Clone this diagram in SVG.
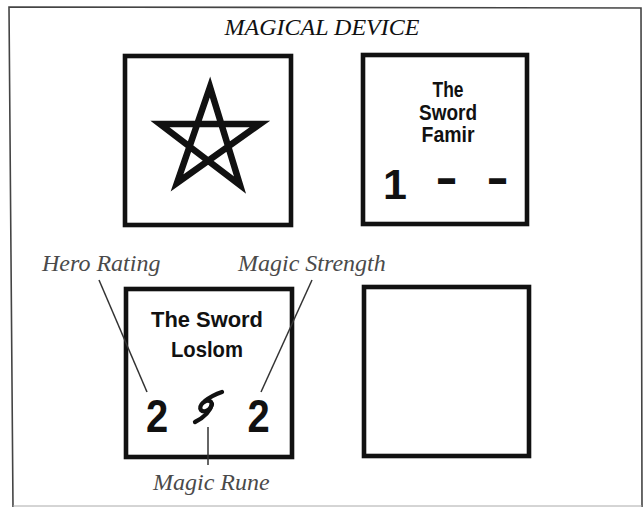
<svg xmlns="http://www.w3.org/2000/svg" width="644" height="509" viewBox="0 0 644 509">
<style>
.frame{fill:none;stroke:#444;stroke-width:1.6}
.box{fill:#fff;stroke:#111;stroke-width:4.6;stroke-linejoin:miter}
.title{font-family:"Liberation Serif",serif;font-style:italic;font-size:24px;fill:#111}
.lbl{font-family:"Liberation Serif",serif;font-style:italic;font-size:24px;fill:#4a4a4a}
.name{font-family:"Liberation Sans",Arial,sans-serif;font-weight:bold;font-size:21.5px;fill:#111;text-anchor:middle}
.num{font-family:"Liberation Sans",Arial,sans-serif;font-weight:bold;fill:#111;text-anchor:middle}
.lead{stroke:#333;stroke-width:1.5;fill:none}
.rune{fill:none;stroke:#111;stroke-width:4.3;stroke-linecap:round}
</style>
<rect x="0" y="0" width="644" height="509" fill="#fff"/>
<path class="frame" d="M13,507 L9,7 L641,8 L642,507"/>
<line x1="13" y1="506" x2="642" y2="506" stroke="#aaa" stroke-width="1"/>
<text class="title" x="322" y="35" text-anchor="middle">MAGICAL DEVICE</text>

<g id="node-star">
<rect class="box" x="125" y="56" width="166" height="169"/>
<path d="M210,87 L177,183 L260,124 L160,124 L240,185 Z" fill="none" stroke="#111" stroke-width="6.5" stroke-linejoin="miter"/>
</g>

<g id="node-famir">
<rect class="box" x="363" y="55" width="164" height="169"/>
<text class="name" x="448" y="97" textLength="31" lengthAdjust="spacingAndGlyphs">The</text>
<text class="name" x="448" y="120" textLength="58" lengthAdjust="spacingAndGlyphs">Sword</text>
<text class="name" x="448" y="142" textLength="53" lengthAdjust="spacingAndGlyphs">Famir</text>
<text class="num" font-size="43" transform="translate(395,199)">1</text>
<text class="num" font-size="43" transform="translate(446.5,197) scale(0.8,1.35)">–</text>
<text class="num" font-size="43" transform="translate(497.5,197) scale(0.8,1.35)">–</text>
</g>

<g id="node-loslom">
<rect class="box" x="126" y="289" width="166" height="168"/>
<text class="name" x="207" y="327" textLength="112" lengthAdjust="spacingAndGlyphs">The Sword</text>
<text class="name" x="207" y="357" textLength="72" lengthAdjust="spacingAndGlyphs">Loslom</text>
<text class="num" font-size="47" transform="translate(157,432) scale(0.85,1)">2</text>
<text class="num" font-size="47" transform="translate(258.5,432) scale(0.85,1)">2</text>
<ellipse class="rune" cx="206" cy="406" rx="6.5" ry="4.5" transform="rotate(-40 206 406)"/>
<path class="rune" d="M222,392 C216,394 210,397 205,401"/>
<path class="rune" d="M212,404 C210,412 203,418 195,422"/>
</g>

<g id="node-empty">
<rect class="box" x="364" y="287" width="165" height="169"/>
</g>

<g id="connectors">
<line class="lead" x1="99" y1="280" x2="147" y2="392"/>
<line class="lead" x1="312" y1="280" x2="261" y2="392"/>
<line class="lead" x1="208" y1="427" x2="208" y2="465"/>
</g>

<g id="labels">
<text class="lbl" x="42" y="271">Hero Rating</text>
<text class="lbl" x="238" y="271">Magic Strength</text>
<text class="lbl" x="153" y="490">Magic Rune</text>
</g>
</svg>
